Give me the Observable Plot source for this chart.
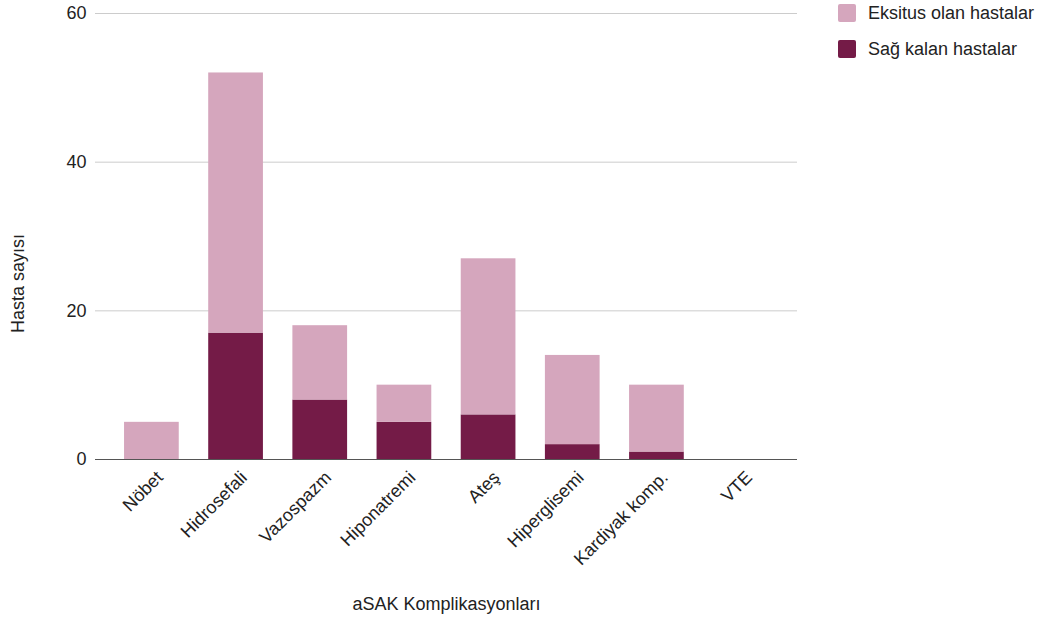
<!DOCTYPE html>
<html>
<head>
<meta charset="utf-8">
<script src="https://cdn.jsdelivr.net/npm/d3@7"></script>
<script src="https://cdn.jsdelivr.net/npm/@observablehq/plot@0.6"></script>
<style>
  html, body { margin: 0; padding: 0; background: #fff; }
  body { font-family: "Liberation Sans", Arial, sans-serif; }
  #wrap { position: relative; width: 1048px; height: 621px; overflow: hidden; }
  #legend { position: absolute; left: 838px; top: 4px; font-size: 18px; color: #222; }
  .item { display: flex; align-items: center; height: 18px; margin-bottom: 18px; white-space: nowrap; }
  .sw { width: 18px; height: 18px; border-radius: 2px; margin-right: 12px; flex: none; }
</style>
</head>
<body>
<div id="wrap"><div id="legend"></div></div>
<script>
const categories = ["Nöbet", "Hidrosefali", "Vazospazm", "Hiponatremi", "Ateş", "Hiperglisemi", "Kardiyak komp.", "VTE"];
const survived = [0, 17, 8, 5, 6, 2, 1, 0];   // Sağ kalan hastalar
const deceased = [5, 35, 10, 5, 21, 12, 9, 0]; // Eksitus olan hastalar
const seriesNames = ["Sağ kalan hastalar", "Eksitus olan hastalar"];
const seriesColors = ["#741b47", "#d5a6bd"];
const legendOrder = ["Eksitus olan hastalar", "Sağ kalan hastalar"];
const yTicks = [0, 20, 40, 60];
const xTitle = "aSAK Komplikasyonları";
const yTitle = "Hasta sayısı";

const data = categories.flatMap((c, i) => [
  {category: c, series: seriesNames[0], value: survived[i]},
  {category: c, series: seriesNames[1], value: deceased[i]}
]);

const font = "'Liberation Sans', Arial, sans-serif";

const chart = Plot.plot({
  width: 1048,
  height: 621,
  marginLeft: 95,
  marginRight: 251,
  marginTop: 13,
  marginBottom: 162,
  style: {fontFamily: font, fontSize: "18px", color: "#222", background: "transparent", overflow: "visible"},
  x: {domain: categories, paddingInner: 0.35, paddingOuter: 0.345, round: false, axis: null},
  y: {domain: [0, 60], axis: null},
  color: {domain: seriesNames, range: seriesColors},
  marks: [
    Plot.ruleY(yTicks.filter(d => d !== 0), {stroke: "#cccccc", strokeWidth: 1}),
    Plot.barY(data, {x: "category", y: "value", fill: "series"}),
    Plot.ruleY([0], {stroke: "#555555", strokeWidth: 1.2}),
    Plot.axisY({ticks: yTicks, tickSize: 0, tickPadding: 9, label: null, fontSize: 18, tickFormat: d => String(d)}),
    Plot.axisX({tickSize: 0, tickRotate: -45, tickPadding: 15, dx: 8, label: null, fontSize: 18}),
    Plot.text([xTitle], {frameAnchor: "bottom", dy: 145, lineAnchor: "middle", textAnchor: "middle", fontSize: 18, fill: "#222"}),
    Plot.text([yTitle], {frameAnchor: "left", dx: -77, dy: 47, rotate: -90, lineAnchor: "middle", textAnchor: "middle", fontSize: 18, fill: "#222"})
  ]
});

const wrap = document.getElementById("wrap");
chart.style.position = "absolute";
chart.style.left = "0";
chart.style.top = "0";
wrap.insertBefore(chart, wrap.firstChild);

const legend = document.getElementById("legend");
legendOrder.forEach(name => {
  const item = document.createElement("div");
  item.className = "item";
  const sw = document.createElement("span");
  sw.className = "sw";
  sw.style.background = seriesColors[seriesNames.indexOf(name)];
  const label = document.createElement("span");
  label.textContent = name;
  item.appendChild(sw);
  item.appendChild(label);
  legend.appendChild(item);
});
</script>
</body>
</html>
